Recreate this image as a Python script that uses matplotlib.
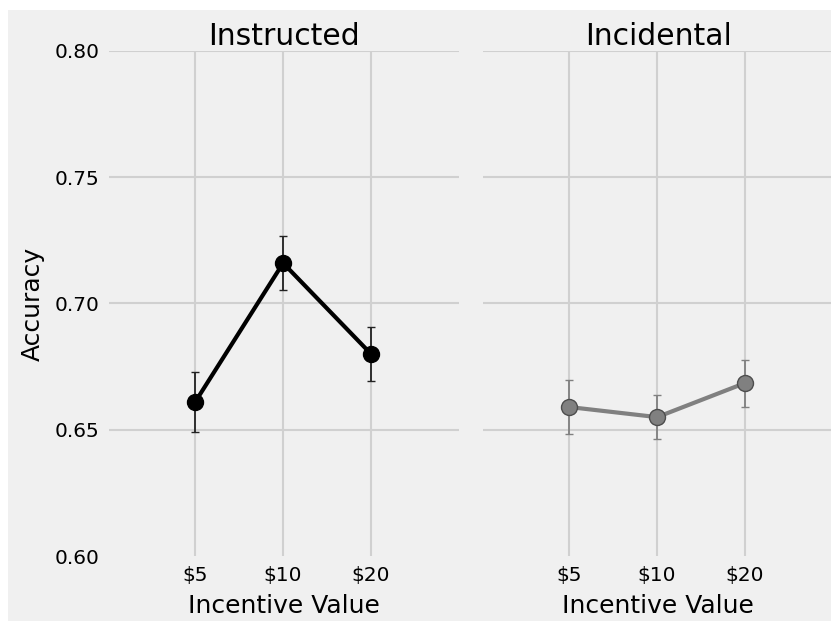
import numpy as np
import matplotlib
matplotlib.use("Agg")
import matplotlib.pyplot as plt
from matplotlib.patches import Rectangle

incentives = ["$5", "$10", "$20"]
instructed_acc = [0.661, 0.716, 0.680]
instructed_err = [0.012, 0.0107, 0.0107]
incidental_acc = [0.659, 0.655, 0.6685]
incidental_err = [0.0108, 0.0088, 0.0093]
yticks = [0.60, 0.65, 0.70, 0.75, 0.80]

plt.style.use("fivethirtyeight")
plt.rcParams["font.family"] = ["DejaVu Sans"]

fig = plt.figure(figsize=(8.31, 6.21), dpi=100)
fig.patch.set_facecolor("#f0f0f0")
fig.patch.set_linewidth(0)
# white margins of the original screenshot
fig.patches.append(Rectangle((0, 1 - 10 / 621), 1, 10 / 621, transform=fig.transFigure,
                             facecolor="white", edgecolor="none"))
fig.patches.append(Rectangle((0, 0), 8 / 831, 1, transform=fig.transFigure,
                             facecolor="white", edgecolor="none"))

bottom = 1 - 556 / 621
height = (556 - 51) / 621
ax1 = fig.add_axes([109 / 831, bottom, 350 / 831, height])
ax2 = fig.add_axes([483 / 831, bottom, 350 / 831, height], sharey=ax1)

panels = [
    (ax1, "Instructed", instructed_acc, instructed_err, "black", "black", "#222222"),
    (ax2, "Incidental", incidental_acc, incidental_err, "#808080", "#4d4d4d", "#808080"),
]

for ax, title, acc, err, color, edge, ecolor in panels:
    ax.set_facecolor("#f0f0f0")
    ax.errorbar(incentives, acc, yerr=err, color=color, lw=3, marker="o",
                markersize=11.5, markerfacecolor=color, markeredgecolor=edge,
                markeredgewidth=1, ecolor=ecolor, elinewidth=1.3, capsize=3,
                capthick=1.3, zorder=3)
    ax.set_xlim(-0.98, 3)
    ax.set_ylim(0.6, 0.8)
    ax.set_yticks(yticks)
    ax.set_title(title, fontsize=21.5, pad=4)
    ax.set_xlabel("Incentive Value", fontsize=18, labelpad=7)
    ax.tick_params(axis="both", labelsize=14.5, pad=7, length=0)
    ax.grid(True, color="#d0d0d0", lw=1.5)
    for s in ax.spines.values():
        s.set_visible(False)
    ax.yaxis.get_gridlines()[0].set_visible(False)

ax1.set_yticklabels(["%.2f" % v for v in yticks])
ax1.set_ylabel("Accuracy", fontsize=18, labelpad=6.5)
ax2.tick_params(axis="y", labelleft=False)

fig.savefig("out.png", dpi=100, facecolor=fig.get_facecolor())
